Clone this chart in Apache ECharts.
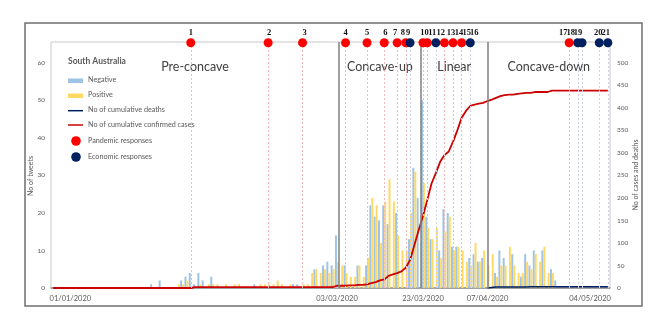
<!DOCTYPE html>
<html><head><meta charset="utf-8">
<script src="https://cdn.jsdelivr.net/npm/echarts@6/dist/echarts.min.js"></script>
<style>html,body{margin:0;padding:0;background:#fff}#c{width:666px;height:328px}</style>
</head><body><div id="c"></div>
<script>
// ---- data ----
const firstDay = [2019, 11, 28];   // first category = 28/12/2019
const dayCount = 130;
const tickLabels = ['01/01/2020', '03/03/2020', '23/03/2020', '07/04/2020', '04/05/2020'];

const negative = [
  0,0,0,0,0,0,0,0,0,0,
  0,0,0,0,0,0,0,0,0,0,
  0,0,0,1,0,2,0,0,0,0,
  2,3,4,1,4,2,0,3,0,0,
  0,0,0,0,0,0,0,1,0,0,
  0,0,0,0,0,0,1,1,0,0,
  0,5,0,6,7,6,14,0,6,0,
  0,6,0,6,22,19,18,22,17,0,
  20,0,0,13,32,24,50,19,13,0,
  10,21,20,11,11,0,0,8,9,7,
  8,0,0,4,10,8,0,9,0,3,
  9,6,10,0,10,0,5,2,0,0,
  0,0,0,0,0,0,0,0,0,0
];
const positive = [
  0,0,0,0,0,0,0,0,0,0,
  0,0,0,0,0,0,0,0,0,0,
  0,0,0,0,0,0,0,0,0,1,
  1,2,0,0,1,0,1,1,1,0,
  1,0,1,1,0,0,0,0,1,1,
  1,1,2,1,0,1,0,0,1,1,
  4,5,4,5,4,5,7,6,4,3,
  3,6,3,8,24,22,12,23,29,23,
  14,10,10,20,31,0,28,16,13,16,
  8,15,19,10,11,10,7,6,12,7,
  10,6,9,3,6,6,11,6,4,4,
  7,5,9,7,11,4,4,0,0,0,
  0,0,0,0,0,0,0,0,0,0
];
const cumulativeCases = [
  0,0,0,0,0,0,0,0,0,0,
  0,0,0,0,0,0,0,0,0,0,
  0,0,0,0,0,0,0,0,0,0,
  0,0,0,2,2,2,2,2,2,2,
  2,2,2,2,2,2,2,2,2,2,
  2,2,2,2,2,2,2,2,2,2,
  2,2,2,2,2,2,5,5,5,6,
  6,7,7,8,11,13,17,19,27,30,
  33,37,45,62,95,128,160,195,232,255,
  280,295,303,325,350,378,393,404,407,409,
  411,415,418,422,426,428,429,429,431,432,
  433,433,435,435,435,435,438,438,438,438,
  438,438,438,438,438,438,438,438,438,438
];
const cumulativeDeaths = [
  '-','-','-','-','-','-','-','-','-','-',
  '-','-','-','-','-','-','-','-','-','-',
  '-','-','-','-','-','-','-','-','-','-',
  '-','-','-','-','-','-','-','-','-','-',
  '-','-','-','-','-','-','-','-','-','-',
  '-','-','-','-','-','-','-','-','-','-',
  '-','-','-','-','-','-','-','-','-','-',
  '-','-','-','-','-','-','-','-','-','-',
  '-','-','-','-','-','-','-','-','-','-',
  '-','-','-','-','-','-','-','-','-','-',
  '-',0,1,2,2,2,2,2,2,2,
  2,3,3,3,3,3,3,3,3,3,
  3,3,3,3,3,3,3,3,3,3
];
const pandemicNumbers = [1,2,3,4,5,6,7,8,10,11,13,14,15,17];
const pandemicDays    = [32,50,58,68,73,77,80,82,86,87,91,93,95,120];
const economicNumbers = [9,12,16,18,19,20,21];
const economicDays    = [83,89,97,122,123,127,129];
const phaseNames  = ['Pre-concave', 'Concave-up', 'Linear', 'Concave-down'];
const phaseBounds = [0, 67, 86, 101.5, 130];   // in days from first category
const markerLevel = 65.3;                       // top edge of tweets axis

// ---- styling (not data) ----
const pandemicLabelShift = [0,1,2,0,0,1,-2,-3,1.5,5,6.5,6,5,-6];
const economicLabelShift = [-2,5,4,-7,-4,-1,-2];
const FONT = 'Lato, "Open Sans", sans-serif';
const GREY = '#595959';

const pad = n => (n < 10 ? '0' : '') + n;
const categories = [];
for (let i = 0; i < dayCount; i++) {
  const d = new Date(Date.UTC(firstDay[0], firstDay[1], firstDay[2] + i));
  categories.push(pad(d.getUTCDate()) + '/' + pad(d.getUTCMonth() + 1) + '/' + d.getUTCFullYear());
}

const chart = echarts.init(document.getElementById('c'), null, {renderer: 'canvas'});

function markerSeries(name, color, days, nums, shifts) {
  return {
    name, type: 'scatter', xAxisIndex: 0, yAxisIndex: 0, z: 6,
    symbol: 'circle', symbolSize: 9, clip: false,
    itemStyle: {color, opacity: 1},
    label: {show: true, position: 'top', distance: 1, fontSize: 8.5, fontWeight: 'bold',
            fontFamily: '"Liberation Serif", serif', color: '#111',
            formatter: p => p.data.num},
    data: days.map((d, k) => ({value: [d, markerLevel], num: String(nums[k]),
                                label: {offset: [shifts[k], 0]}})),
    emphasis: {disabled: true}
  };
}
function dottedLines(days, color) {
  return {
    type: 'line', xAxisIndex: 0, yAxisIndex: 0, data: [], z: 1, silent: true,
    markLine: {silent: true, symbol: ['none', 'none'], label: {show: false},
      lineStyle: {color, type: [2, 2], width: 1}, emphasis: {disabled: true},
      data: days.map(d => ({xAxis: d}))}
  };
}

const option = {
  animation: false,
  textStyle: {fontFamily: FONT},
  grid: {left: 51, right: 56, top: 42, bottom: 40, show: true, borderColor: '#c9c9c9', borderWidth: 1},
  xAxis: [{
    type: 'category', data: categories, boundaryGap: true,
    axisTick: {show: false},
    axisLine: {lineStyle: {color: '#8c8c8c', width: 1.5}},
    axisLabel: {interval: 0, fontSize: 7.5, color: GREY, margin: 7, fontFamily: FONT,
      formatter: v => tickLabels.indexOf(v) < 0 ? '' : (v === '04/05/2020' ? '{r|' + v + '}' : v),
      rich: {r: {fontSize: 7.5, color: GREY, fontFamily: FONT, padding: [0, 27, 0, 0]}}},
    splitLine: {show: false}
  }, {
    type: 'value', min: 0, max: dayCount, show: false, position: 'top'
  }],
  yAxis: [{
    type: 'value', min: 0, max: 65.5, interval: 10,
    axisLine: {show: false}, axisTick: {show: false}, splitLine: {show: false},
    axisLabel: {fontSize: 6.5, color: GREY, margin: 6, showMaxLabel: false},
    name: 'No of tweets', nameLocation: 'middle', nameGap: 17, nameRotate: 90, nameMoveOverlap: false,
    nameTextStyle: {fontSize: 7, color: GREY, padding: [0, 22, 0, 0]}
  }, {
    type: 'value', min: 0, max: 546, interval: 50, position: 'right',
    axisLine: {show: false}, axisTick: {show: false}, splitLine: {show: false},
    axisLabel: {fontSize: 6.5, color: GREY, margin: 7, showMaxLabel: false},
    name: 'No of cases and deaths', nameLocation: 'middle', nameGap: 22, nameRotate: 90, nameMoveOverlap: false,
    nameTextStyle: {fontSize: 7, color: GREY, padding: [0, 20, 0, 0]}
  }],
  series: [
    dottedLines(pandemicDays, '#f6b9b9'),
    dottedLines(economicDays, '#cdd3e2'),
    {name: 'Negative', type: 'bar', data: negative, barGap: '0%', barCategoryGap: '8%', z: 2,
     itemStyle: {color: '#9DC3E6'}},
    {name: 'Positive', type: 'bar', data: positive, barGap: '0%', barCategoryGap: '8%', z: 2,
     itemStyle: {color: '#FFD966'}},
    {type: 'line', xAxisIndex: 1, yAxisIndex: 0, data: [], z: 3, silent: true,
     markLine: {silent: true, symbol: ['none', 'none'], label: {show: false},
       lineStyle: {color: '#7f7f7f', type: 'solid', width: 1.5},
       data: phaseBounds.slice(1, phaseBounds.length - 1).map(v => ({xAxis: v}))},
     markArea: {silent: true, itemStyle: {color: 'rgba(0,0,0,0)'},
       label: {show: true, position: 'insideTop', distance: 18, fontSize: 12.5, color: '#404040', fontFamily: FONT},
       data: phaseNames.map((n, k) => [{name: n, xAxis: phaseBounds[k]}, {xAxis: phaseBounds[k + 1]}])}},
    {name: 'No of cumulative deaths', type: 'line', yAxisIndex: 1, data: cumulativeDeaths, z: 4,
     symbol: 'none', lineStyle: {color: '#002060', width: 1.5}, connectNulls: false},
    {name: 'No of cumulative confirmed cases', type: 'line', yAxisIndex: 1, data: cumulativeCases, z: 4,
     symbol: 'none', lineStyle: {color: '#CC0000', width: 1.8}},
    markerSeries('Pandemic responses', '#FF0000', pandemicDays, pandemicNumbers, pandemicLabelShift),
    markerSeries('Economic responses', '#002060', economicDays, economicNumbers, economicLabelShift)
  ],
  graphic: [
    {type: 'rect', shape: {x: 25, y: 23, width: 617, height: 283}, silent: true,
     style: {fill: 'none', stroke: '#6f6f6f', lineWidth: 1.5}},
    {type: 'text', left: 68, top: 57, silent: true,
     style: {text: 'South Australia', fontSize: 8.5, fontWeight: 'bold', fill: GREY, fontFamily: FONT}},
    {type: 'rect', shape: {x: 68, y: 78.5, width: 15, height: 4.5}, style: {fill: '#9DC3E6'}, silent: true},
    {type: 'rect', shape: {x: 68, y: 93.5, width: 15, height: 4.5}, style: {fill: '#FFD966'}, silent: true},
    {type: 'line', shape: {x1: 68, y1: 110.7, x2: 83, y2: 110.7}, style: {stroke: '#002060', lineWidth: 1.5}, silent: true},
    {type: 'line', shape: {x1: 68, y1: 125, x2: 83, y2: 125}, style: {stroke: '#CC0000', lineWidth: 1.5}, silent: true},
    {type: 'circle', shape: {cx: 76, cy: 141, r: 4.8}, style: {fill: '#FF0000'}, silent: true},
    {type: 'circle', shape: {cx: 76, cy: 157, r: 4.8}, style: {fill: '#002060'}, silent: true},
    {type: 'text', left: 88, top: 76.5, silent: true, style: {text: 'Negative', fontSize: 7.2, fill: GREY, fontFamily: FONT}},
    {type: 'text', left: 88, top: 91.5, silent: true, style: {text: 'Positive', fontSize: 7.2, fill: GREY, fontFamily: FONT}},
    {type: 'text', left: 88, top: 106.5, silent: true, style: {text: 'No of cumulative deaths', fontSize: 7.2, fill: GREY, fontFamily: FONT}},
    {type: 'text', left: 88, top: 121, silent: true, style: {text: 'No of cumulative confirmed cases', fontSize: 7.2, fill: GREY, fontFamily: FONT}},
    {type: 'text', left: 88, top: 137, silent: true, style: {text: 'Pandemic responses', fontSize: 7.2, fill: GREY, fontFamily: FONT}},
    {type: 'text', left: 88, top: 153, silent: true, style: {text: 'Economic responses', fontSize: 7.2, fill: GREY, fontFamily: FONT}}
  ]
};
chart.setOption(option);
</script></body></html>
